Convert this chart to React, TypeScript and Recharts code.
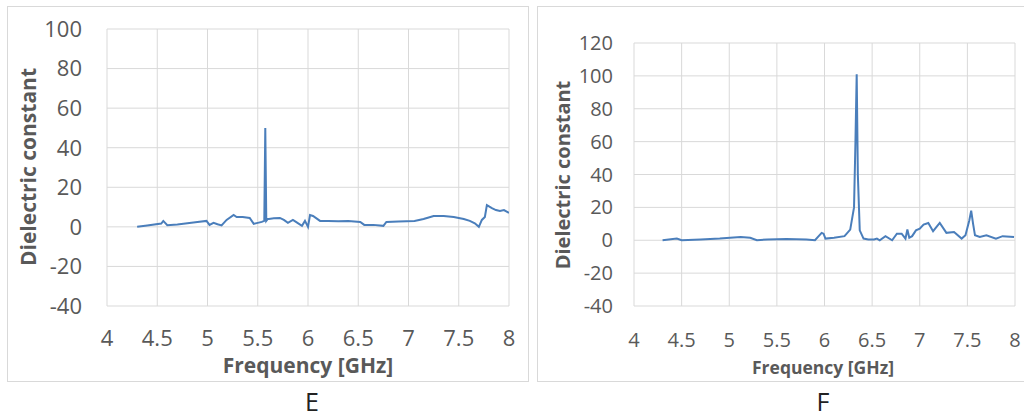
import React from "react";
import { LineChart, Line, XAxis, YAxis, CartesianGrid } from "recharts";

const freqTicks = [4, 4.5, 5, 5.5, 6, 6.5, 7, 7.5, 8];
const yTicksE = [-40, -20, 0, 20, 40, 60, 80, 100];
const yTicksF = [-40, -20, 0, 20, 40, 60, 80, 100, 120];

const freqE = [4.3, 4.4, 4.54, 4.56, 4.6, 4.7, 4.8, 4.9, 4.99, 5.02, 5.06, 5.1, 5.14, 5.19, 5.26, 5.29, 5.35, 5.42, 5.46, 5.5, 5.54, 5.565, 5.575, 5.585, 5.6, 5.61, 5.66, 5.72, 5.76, 5.8, 5.85, 5.88, 5.94, 5.97, 5.99, 6.0, 6.02, 6.05, 6.12, 6.2, 6.3, 6.4, 6.52, 6.56, 6.65, 6.75, 6.78, 6.9, 7.06, 7.15, 7.25, 7.35, 7.45, 7.55, 7.61, 7.66, 7.7, 7.73, 7.76, 7.78, 7.83, 7.87, 7.91, 7.95, 8.0];
const valE = [0, 0.7, 1.7, 3, 0.8, 1.2, 1.8, 2.4, 3, 1, 2, 1.3, 0.7, 3.5, 6, 5, 5, 4.5, 1.5, 2, 2.5, 3, 50, 3, 4, 4, 4.3, 4.5, 3.5, 2, 3.5, 2.5, 0.5, 3, 1, 0, 6, 5.5, 3, 3, 2.8, 3, 2.5, 1, 1, 0.5, 2.5, 2.7, 3, 4, 5.5, 5.5, 5, 4, 3, 1.8, 0, 3.5, 5, 11, 9.5, 8.5, 8, 8.5, 7];

const freqF = [4.3, 4.45, 4.5, 4.7, 4.9, 5.01, 5.12, 5.22, 5.29, 5.4, 5.6, 5.81, 5.9, 5.97, 5.99, 6.01, 6.1, 6.21, 6.27, 6.31, 6.325, 6.338, 6.35, 6.37, 6.41, 6.46, 6.52, 6.55, 6.58, 6.64, 6.71, 6.76, 6.81, 6.85, 6.87, 6.89, 6.92, 6.96, 7.0, 7.04, 7.09, 7.14, 7.21, 7.28, 7.36, 7.44, 7.48, 7.52, 7.54, 7.56, 7.58, 7.63, 7.7, 7.8, 7.87, 7.99];
const valF = [0, 1, 0, 0.5, 1, 1.5, 2, 1.5, 0, 0.5, 0.7, 0.5, 0, 4.5, 4, 1, 1.5, 2.5, 6.5, 20, 60, 101, 40, 6, 1, 0.5, 0.5, 1, 0, 2.5, 0, 4, 4, 1, 6.5, 1.5, 2.5, 6, 7, 9.5, 10.5, 5.5, 10.5, 4.5, 5, 1, 3, 12, 18, 10, 3, 2, 3, 1, 2.5, 2];

const dataE = freqE.map((f, i) => ({ f, v: valE[i] }));
const dataF = freqF.map((f, i) => ({ f, v: valF[i] }));

const FONT = "'Open Sans', sans-serif";
const GRAY = "#595959";
const GRID = "#d9d9d9";
const LINE = "#4a7ebb";

interface PanelProps {
  data: { f: number; v: number }[];
  left: number;
  width: number;
  height: number;
  margin: { top: number; right: number; bottom: number; left: number };
  yDomain: [number, number];
  yTicks: number[];
  tickFont: number;
  yTickGap: number;
  xTickGap: number;
  yTitleFont: number;
  xTitleFont: number;
  yTitleX: number;
  yTitleY: number;
  xTitleX: number;
  xTitleY: number;
}

function Panel(p: PanelProps) {
  return (
    <div style={{ position: "absolute", left: p.left, top: 0, width: p.width, height: p.height }}>
      <LineChart width={p.width} height={p.height} data={p.data} margin={p.margin}>
        <CartesianGrid stroke={GRID} strokeWidth={1} horizontal vertical />
        <XAxis
          dataKey="f"
          type="number"
          domain={[4, 8]}
          ticks={freqTicks}
          axisLine={false}
          tickLine={false}
          tickSize={0}
          tickMargin={p.xTickGap}
          height={30}
          interval={0}
          tick={{ fill: GRAY, fontSize: p.tickFont, fontFamily: FONT }}
          allowDataOverflow
        />
        <YAxis
          type="number"
          domain={p.yDomain}
          ticks={p.yTicks}
          axisLine={false}
          tickLine={false}
          tickSize={0}
          tickMargin={p.yTickGap}
          width={60}
          interval={0}
          tick={{ fill: GRAY, fontSize: p.tickFont, fontFamily: FONT }}
        />
        <Line
          type="linear"
          dataKey="v"
          stroke={LINE}
          strokeWidth={2}
          dot={false}
          isAnimationActive={false}
        />
        <text
          x={p.yTitleX}
          y={p.yTitleY}
          transform={`rotate(-90 ${p.yTitleX} ${p.yTitleY})`}
          textAnchor="middle"
          dominantBaseline="central"
          fill={GRAY}
          fontFamily={FONT}
          fontWeight={700}
          fontSize={p.yTitleFont}
        >
          Dielectric constant
        </text>
        <text
          x={p.xTitleX}
          y={p.xTitleY}
          textAnchor="middle"
          dominantBaseline="central"
          fill={GRAY}
          fontFamily={FONT}
          fontWeight={700}
          fontSize={p.xTitleFont}
        >
          Frequency [GHz]
        </text>
      </LineChart>
    </div>
  );
}

export default function App() {
  return (
    <div style={{ position: "absolute", left: 0, top: 0, width: 1024, height: 419, background: "#fff", overflow: "hidden" }}>
      <div style={{ position: "absolute", left: 7, top: 6, width: 520, height: 374, border: `1px solid ${GRID}` }} />
      <div style={{ position: "absolute", left: 537, top: 6, width: 500, height: 374, border: `1px solid ${GRID}` }} />
      <Panel
        data={dataE}
        left={0}
        width={528}
        height={381}
        margin={{ top: 29, right: 19, bottom: 45, left: 47 }}
        yDomain={[-40, 100]}
        yTicks={yTicksE}
        tickFont={22}
        yTickGap={25}
        xTickGap={24}
        yTitleFont={21}
        xTitleFont={21}
        yTitleX={28}
        yTitleY={167}
        xTitleX={308}
        xTitleY={365}
      />
      <Panel
        data={dataF}
        left={537}
        width={487}
        height={381}
        margin={{ top: 43, right: 9, bottom: 45, left: 37 }}
        yDomain={[-40, 120]}
        yTicks={yTicksF}
        tickFont={20}
        yTickGap={21}
        xTickGap={27}
        yTitleFont={20}
        xTitleFont={17.5}
        yTitleX={25}
        yTitleY={175}
        xTitleX={286}
        xTitleY={367}
      />
      <div style={{ position: "absolute", left: 0, width: 624, top: 384, textAlign: "center", fontFamily: FONT, fontSize: 25, color: "#222" }}>E</div>
      <div style={{ position: "absolute", left: 623, width: 400, top: 384, textAlign: "center", fontFamily: FONT, fontSize: 25, color: "#222" }}>F</div>
    </div>
  );
}
